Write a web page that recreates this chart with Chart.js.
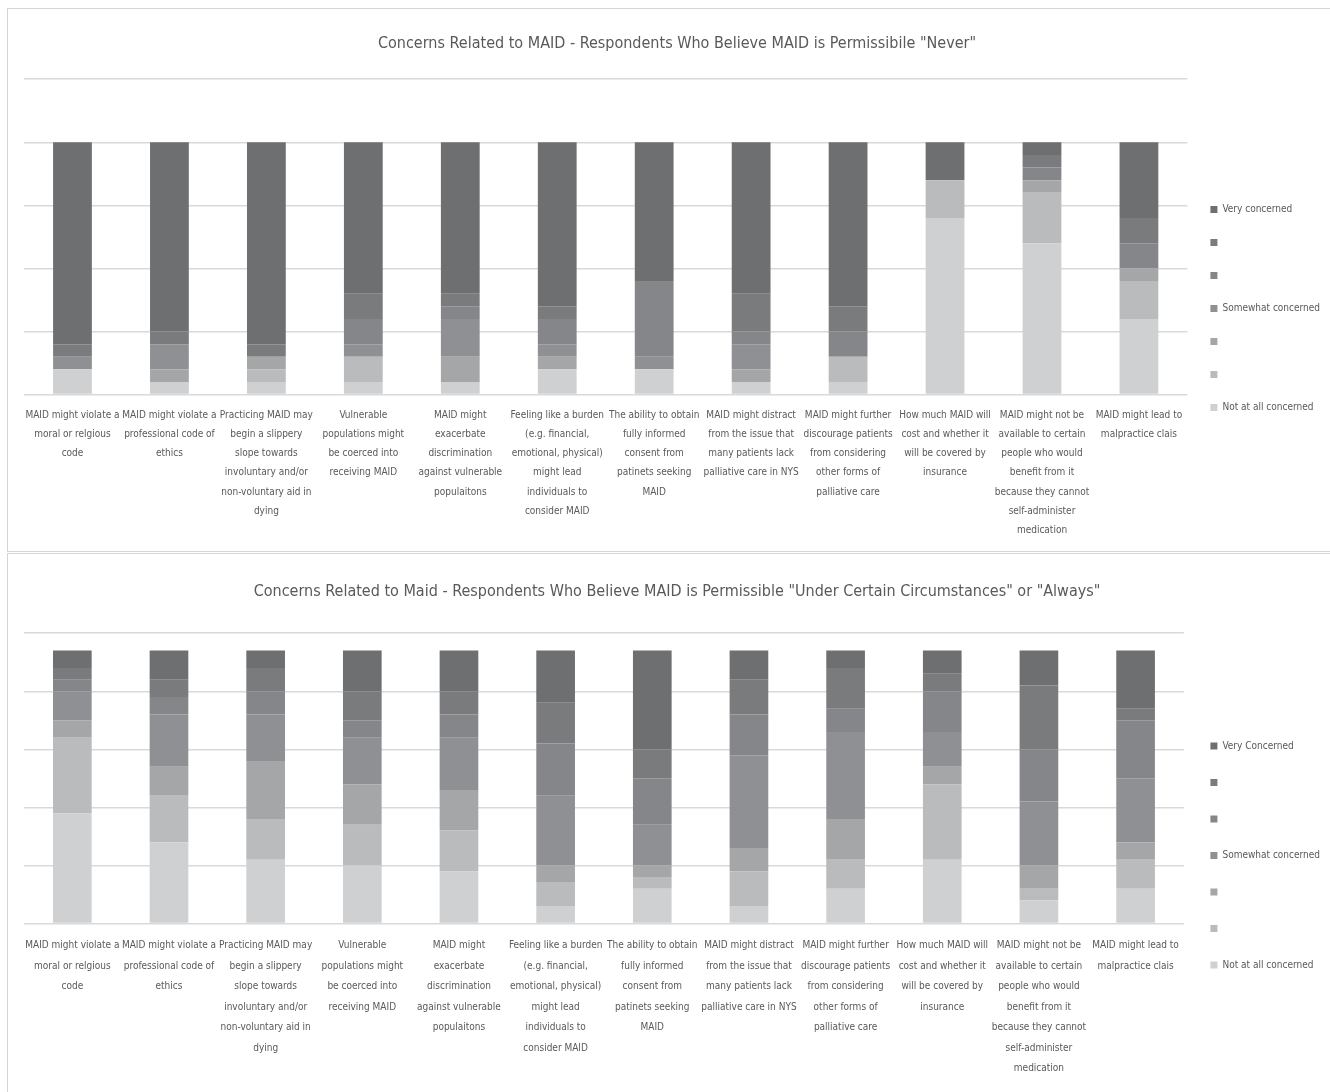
<!DOCTYPE html>
<html>
<head>
<meta charset="utf-8">
<script src="https://cdn.jsdelivr.net/npm/chart.js@4.4.0/dist/chart.umd.min.js"></script>
<style>
  body { margin: 0; background: #fff; }
  .panel { position: absolute; left: 7px; width: 1323px; border-left: 1px solid #d4d4d4; border-top: 1px solid #d4d4d4; }
  #p1 { top: 8px; height: 542px; border-bottom: 1px solid #d4d4d4; }
  #p2 { top: 553px; height: 539px; }
</style>
</head>
<body>
<div class="panel" id="p1"><canvas id="neverChart" width="1322" height="542"></canvas></div>
<div class="panel" id="p2"><canvas id="sometimesChart" width="1322" height="539"></canvas></div>
<script>
const categories = [
  ['MAID might violate a', 'moral or relgious', 'code'],
  ['MAID might violate a', 'professional code of', 'ethics'],
  ['Practicing MAID may', 'begin a slippery', 'slope towards', 'involuntary and/or', 'non-voluntary aid in', 'dying'],
  ['Vulnerable', 'populations might', 'be coerced into', 'receiving MAID'],
  ['MAID might', 'exacerbate', 'discrimination', 'against vulnerable', 'populaitons'],
  ['Feeling like a burden', '(e.g. financial,', 'emotional, physical)', 'might lead', 'individuals to', 'consider MAID'],
  ['The ability to obtain', 'fully informed', 'consent from', 'patinets seeking', 'MAID'],
  ['MAID might distract', 'from the issue that', 'many patients lack', 'palliative care in NYS'],
  ['MAID might further', 'discourage patients', 'from considering', 'other forms of', 'palliative care'],
  ['How much MAID will', 'cost and whether it', 'will be covered by', 'insurance'],
  ['MAID might not be', 'available to certain', 'people who would', 'benefit from it', 'because they cannot', 'self-administer', 'medication'],
  ['MAID might lead to', 'malpractice clais']
]

// level names, from 1 (not at all) to 7 (very)
const neverLevels = ['Not at all concerned', '', '', 'Somewhat concerned', '', '', 'Very concerned']
const otherLevels = ['Not at all concerned', '', '', 'Somewhat concerned', '', '', 'Very Concerned']

const levelColors = ['#cfd0d2', '#babbbd', '#a5a6a8', '#8f9093', '#858689', '#7a7b7d', '#6e6f71']

// respondents who say "Never" (20 people)
const never1 = [2, 1, 1, 1, 1, 2, 2, 1, 1, 14, 12, 6]
const never2 = [0, 0, 1, 2, 0, 0, 0, 0, 2, 3, 4, 3]
const never3 = [0, 1, 1, 0, 2, 1, 0, 1, 0, 0, 1, 1]
const never4 = [1, 2, 0, 1, 3, 1, 1, 2, 0, 0, 0, 0]
const never5 = [0, 0, 0, 2, 1, 2, 6, 1, 2, 0, 1, 2]
const never6 = [1, 1, 1, 2, 1, 1, 0, 3, 2, 0, 1, 2]
const never7 = [16, 15, 16, 12, 12, 13, 11, 12, 13, 3, 1, 6]

// respondents who say "Under certain circumstances" or "Always" (47 people)
const other1 = [19, 14, 11, 10, 9, 3, 6, 3, 6, 11, 4, 6]
const other2 = [13, 8, 7, 7, 7, 4, 2, 6, 5, 13, 2, 5]
const other3 = [3, 5, 10, 7, 7, 3, 2, 4, 7, 3, 4, 3]
const other4 = [5, 9, 8, 8, 9, 12, 7, 16, 15, 6, 11, 11]
const other5 = [2, 3, 4, 3, 4, 9, 8, 7, 4, 7, 9, 10]
const other6 = [2, 3, 4, 5, 4, 7, 5, 6, 7, 3, 11, 2]
const other7 = [3, 5, 3, 7, 7, 9, 17, 5, 3, 4, 6, 10]

const neverTitle = 'Concerns Related to MAID - Respondents Who Believe MAID is Permissibile "Never"'
const otherTitle = 'Concerns Related to Maid - Respondents Who Believe MAID is Permissible "Under Certain Circumstances" or "Always"'

const fontFamily = "'Liberation Sans Narrow', 'DejaVu Sans Condensed', sans-serif"
const textColor = '#595959'

function makeChart(id, title, levels, series, yMax, yStep, lay)
{
  const datasets = series.map((vals, i) => ({
    label: levels[i],
    data: vals,
    backgroundColor: levelColors[i],
    borderWidth: 0,
    barPercentage: 0.4,
    categoryPercentage: 1
  }))

  return new Chart(document.getElementById(id).getContext('2d'), {
    type: 'bar',
    data: { labels: categories, datasets: datasets },
    options: {
      responsive: false,
      animation: false,
      layout: { padding: { left: 16, right: 0, top: 0, bottom: lay.bottomPad } },
      plugins: {
        title: {
          display: true,
          text: title,
          color: textColor,
          font: { family: fontFamily, size: 16, weight: 'normal', lineHeight: 1.2 },
          padding: lay.titlePad
        },
        legend: {
          position: 'right',
          reverse: true,
          title: { display: true, text: ' ', font: { size: 10 }, padding: lay.legendShift },
          labels: {
            color: textColor,
            font: { family: fontFamily, size: 10 },
            boxWidth: 7,
            boxHeight: 7,
            padding: lay.legendPad
          }
        },
        tooltip: { enabled: false }
      },
      scales: {
        x: {
          stacked: true,
          grid: { display: false, drawTicks: false },
          border: { display: false },
          ticks: {
            color: textColor,
            font: { family: fontFamily, size: 10, lineHeight: lay.lineHeight },
            maxRotation: 0,
            autoSkip: false,
            padding: lay.tickPad
          }
        },
        y: {
          stacked: true,
          min: 0,
          max: yMax,
          border: { display: false },
          grid: { color: '#d9d9d9', lineWidth: 1.5, drawTicks: false },
          ticks: { display: false, stepSize: yStep }
        }
      }
    }
  })
}

makeChart('neverChart', neverTitle, neverLevels,
  [never1, never2, never3, never4, never5, never6, never7], 25, 5,
  { titlePad: { top: 25, bottom: 26 }, bottomPad: 0, lineHeight: 1.92, tickPad: 11, legendPad: 23, legendShift: 22.5 })
makeChart('sometimesChart', otherTitle, otherLevels,
  [other1, other2, other3, other4, other5, other6, other7], 50, 10,
  { titlePad: { top: 28, bottom: 32 }, bottomPad: 2, lineHeight: 2.05, tickPad: 12, legendPad: 26.5, legendShift: 27 })
</script>
</body>
</html>
